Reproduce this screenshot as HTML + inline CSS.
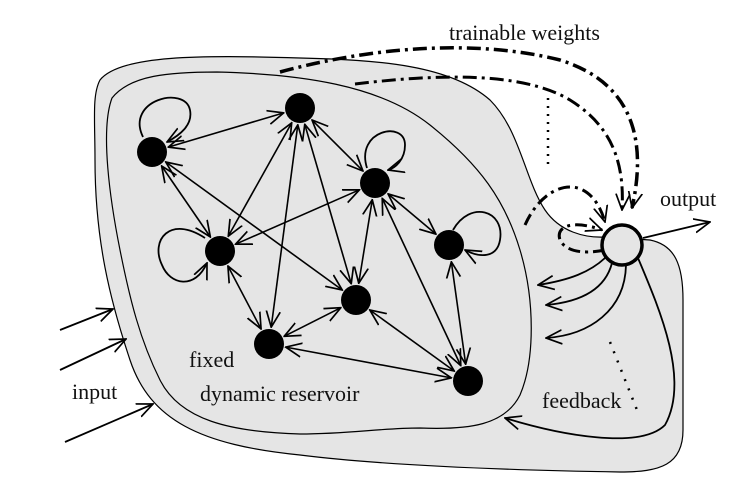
<!DOCTYPE html>
<html><head><meta charset="utf-8"><style>
html,body{margin:0;padding:0;background:#fff;width:735px;height:481px;overflow:hidden}
.t{font-family:"Liberation Serif","DejaVu Serif",serif;font-size:22px;fill:#111}
</style></head><body>
<svg id="s" width="735" height="481" viewBox="0 0 735 481" xmlns="http://www.w3.org/2000/svg">
<defs>
<marker id="a" viewBox="0 0 17 16" refX="16" refY="8" markerWidth="17" markerHeight="16" markerUnits="userSpaceOnUse" orient="auto-start-reverse">
<path d="M0,1 L16,8 L0,15" fill="none" stroke="#000" stroke-width="1.7"/>
</marker>
</defs>
<path d="M100,80 C120,55 200,55 300,58 C380,60 450,65 490,100 C520,130 525,180 545,210 C560,232 585,238 605,237 L650,240 C675,245 683,265 683,300 L683,430 C683,465 660,472 620,472 C500,470 380,465 300,455 C200,445 150,420 130,360 C110,300 95,240 95,160 C95,120 92,95 100,80 Z" fill="#e5e5e5" stroke="#000" stroke-width="1.2"/>
<path d="M112,98 C130,75 170,72 217,72 C300,74 380,85 430,125 C480,165 505,200 520,250 C535,300 535,360 520,395 C505,425 470,430 420,428 C380,428 350,434 300,434 C230,432 180,420 160,380 C140,340 130,300 120,250 C110,200 100,130 112,98 Z" fill="#e5e5e5" stroke="#000" stroke-width="1.2"/>
<g id="edges" stroke="#000" stroke-width="1.6" fill="none"></g>
<g stroke="#000" stroke-width="1.8" fill="none" marker-end="url(#a)">
<path d="M143,137 C125,100 185,85 190,110 C193,125 180,135 167,142"/>
<path d="M367,168 C355,130 405,120 405,145 C405,160 395,168 388,170"/>
<path d="M205,238 C170,215 150,240 162,265 C170,285 195,290 207,263"/>
<path d="M453,230 C470,200 505,210 500,240 C497,258 480,258 465,250"/>
</g>
<g fill="#000">
<circle cx="152" cy="152" r="15"/><circle cx="300" cy="108" r="15"/>
<circle cx="375" cy="183" r="15"/><circle cx="220" cy="251" r="15"/>
<circle cx="449" cy="245" r="15"/><circle cx="356" cy="300" r="15"/>
<circle cx="269" cy="344" r="15"/><circle cx="468" cy="381" r="15"/>
</g>
<g stroke="#000" fill="none" marker-end="url(#a)">
<path d="M280,72 C380,45 480,40 560,60 C640,85 645,150 632,208" stroke-width="3.5" stroke-dasharray="14,5,3,5"/>
<path d="M355,84 C430,75 520,70 570,100 C610,125 625,160 622,210" stroke-width="3" stroke-dasharray="14,5,3,5"/>
<path d="M525,225 C545,180 590,170 605,222" stroke-width="3" stroke-dasharray="12,5,3,5"/>
<path d="M605,250 C580,255 565,250 560,240 C555,225 575,220 602,230" stroke-width="3" stroke-dasharray="12,5,3,5"/>
</g>
<path d="M548,98 L548,165" stroke="#000" stroke-width="2.5" stroke-dasharray="2,6" fill="none"/>
<path d="M610,342 L637,410" stroke="#000" stroke-width="2.5" stroke-dasharray="2,8" fill="none"/>
<circle cx="622" cy="245" r="20" fill="#e5e5e5" stroke="#000" stroke-width="3.5"/>
<g stroke="#000" stroke-width="1.8" fill="none" marker-end="url(#a)">
<path d="M643,238 L710,222"/>
<path d="M605,258 C590,272 570,280 538,285"/>
<path d="M612,263 C605,290 580,302 546,305"/>
<path d="M626,265 C625,310 590,335 546,338"/>
<path d="M638,258 C660,310 690,380 665,425 C640,450 560,435 505,418"/>
<path d="M60,330 L113,309"/>
<path d="M60,370 L126,339"/>
<path d="M65,442 L153,404"/>
</g>
<text class="t" x="449" y="40">trainable weights</text>
<text class="t" x="660" y="206">output</text>
<text class="t" x="72" y="399">input</text>
<text class="t" x="189" y="367">fixed</text>
<text class="t" x="200" y="401">dynamic reservoir</text>
<text class="t" x="542" y="408">feedback</text>
</svg>
<script>
var N={1:[152,152],2:[300,108],3:[375,183],4:[220,251],5:[449,245],6:[356,300],7:[269,344],8:[468,381]};
var E=[[1,2],[1,4],[1,6],[2,4],[2,7],[2,6],[2,3],[3,4],[3,6],[3,8],[3,5],[4,7],[6,7],[7,8],[6,8],[5,8]];
var g=document.getElementById('edges'),r=17;
E.forEach(function(e){var a=N[e[0]],b=N[e[1]],dx=b[0]-a[0],dy=b[1]-a[1],l=Math.hypot(dx,dy),ux=dx/l,uy=dy/l;
var p=document.createElementNS('http://www.w3.org/2000/svg','line');
p.setAttribute('x1',a[0]+ux*r);p.setAttribute('y1',a[1]+uy*r);p.setAttribute('x2',b[0]-ux*r);p.setAttribute('y2',b[1]-uy*r);
p.setAttribute('marker-end','url(#a)');p.setAttribute('marker-start','url(#a)');g.appendChild(p);});
</script>
</body></html>
